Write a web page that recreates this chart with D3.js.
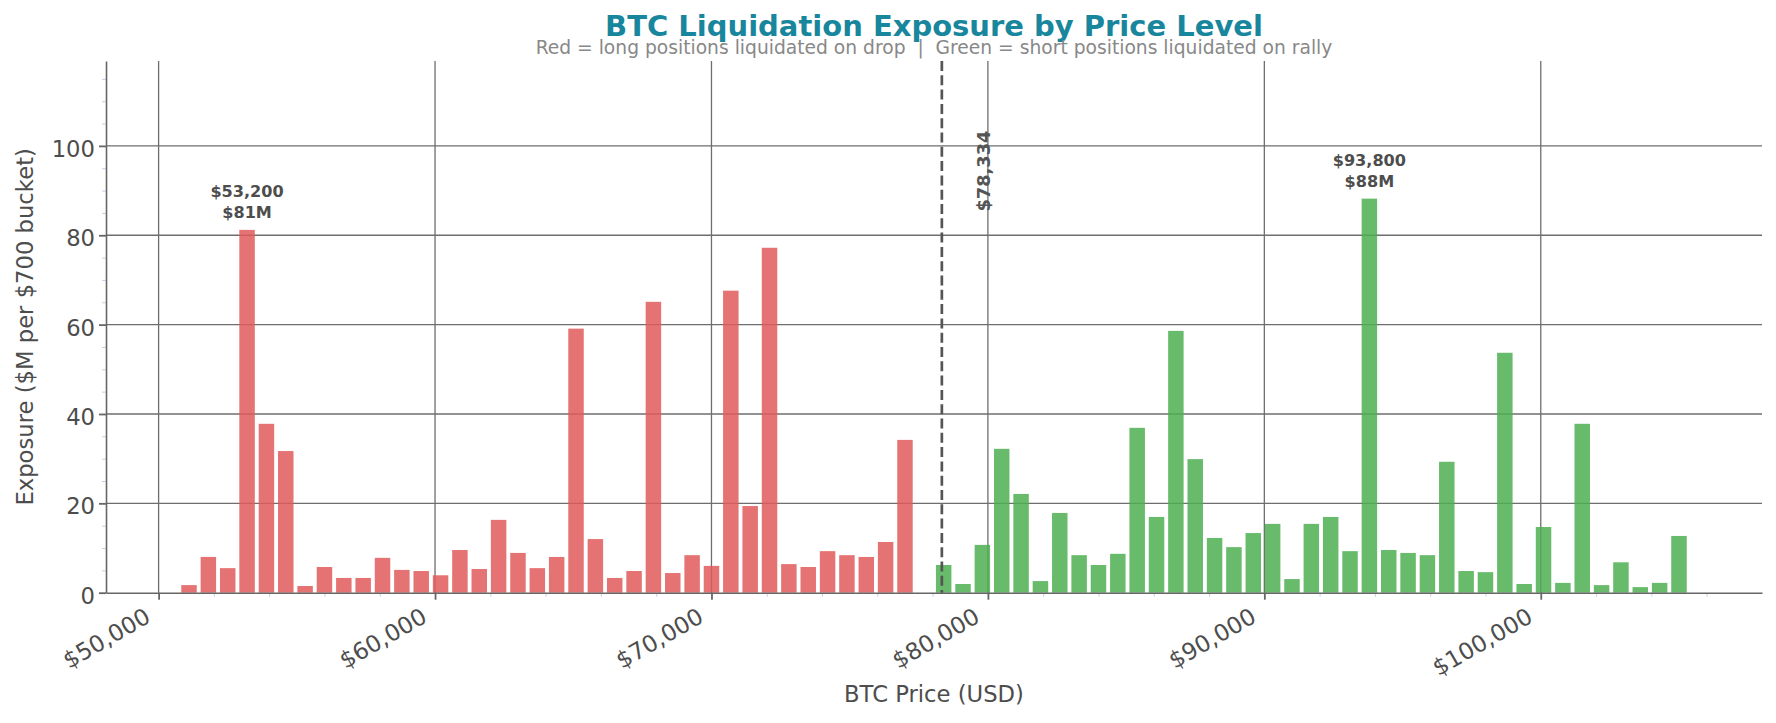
<!DOCTYPE html>
<html>
<head>
<meta charset="utf-8">
<script src="https://cdn.jsdelivr.net/npm/d3@7"></script>
<style>
  body { margin: 0; background: #fff; }
  svg { display: block; font-family: 'DejaVu Sans', sans-serif; }
</style>
</head>
<body>
<div id="chart"></div>
<script>
// $700 price buckets below the current price (long liquidations)
const longPrices = [
  51100, 51800, 52500, 53200, 53900, 54600, 55300, 56000, 56700, 57400,
  58100, 58800, 59500, 60200, 60900, 61600, 62300, 63000, 63700, 64400,
  65100, 65800, 66500, 67200, 67900, 68600, 69300, 70000, 70700, 71400,
  72100, 72800, 73500, 74200, 74900, 75600, 76300, 77000
];
const longValues = [
  1.7, 8.0, 5.5, 81.2, 37.8, 31.7, 1.5, 5.75, 3.3, 3.3,
  7.8, 5.1, 4.85, 3.9, 9.55, 5.3, 16.3, 8.9, 5.5, 8.0,
  59.1, 12.0, 3.3, 4.85, 65.1, 4.4, 8.4, 6.0, 67.6, 19.4,
  77.2, 6.4, 5.75, 9.3, 8.4, 8.0, 11.35, 34.2
];

// $700 price buckets above the current price (short liquidations)
const shortPrices = [
  78400, 79100, 79800, 80500, 81200, 81900, 82600, 83300, 84000, 84700,
  85400, 86100, 86800, 87500, 88200, 88900, 89600, 90300, 91000, 91700,
  92400, 93100, 93800, 94500, 95200, 95900, 96600, 97300, 98000, 98700,
  99400, 100100, 100800, 101500, 102200, 102900, 103600, 104300, 105000
];
const shortValues = [
  6.2, 1.95, 10.7, 32.2, 22.1, 2.6, 17.85, 8.4, 6.2, 8.7,
  36.9, 16.95, 58.6, 29.9, 12.25, 10.2, 13.35, 15.4, 3.05, 15.4,
  16.95, 9.3, 88.2, 9.55, 8.9, 8.4, 29.3, 4.85, 4.6, 53.7,
  1.95, 14.7, 2.2, 37.8, 1.7, 6.8, 1.25, 2.2, 12.7
];

const currentPrice = 78334;
const bucketSize = 700;

const xTicks = [50000, 60000, 70000, 80000, 90000, 100000];
const xMinorTicks = [
  52000, 54000, 56000, 58000, 62000, 64000, 66000, 68000, 72000, 74000,
  76000, 78000, 82000, 84000, 86000, 88000, 92000, 94000, 96000, 98000,
  102000, 104000, 106000
];
const yTicks = [0, 20, 40, 60, 80, 100];
const yMinorTicks = [5, 10, 15, 25, 30, 35, 45, 50, 55, 65, 70, 75, 85, 90, 95, 105, 110, 115];

const longs = longPrices.map((p, i) => ({ price: p, value: longValues[i], side: 'long' }));
const shorts = shortPrices.map((p, i) => ({ price: p, value: shortValues[i], side: 'short' }));
const buckets = [...longs, ...shorts];

function createChart() {
  const width = 1776;
  const height = 723;
  const margin = { top: 61, right: 14, bottom: 130.3, left: 106 };

  const usableArea = {
    top: margin.top,
    right: width - margin.right,
    bottom: height - margin.bottom,
    left: margin.left,
  };

  const svg = d3.select('#chart')
    .append('svg')
    .attr('width', width)
    .attr('height', height);

  const barWidth = bucketSize * 0.8;

  const xScale = d3.scaleLinear()
    .domain([48097, 108003])
    .range([usableArea.left, usableArea.right]);

  const yScale = d3.scaleLinear()
    .domain([0, 119])
    .range([usableArea.bottom, usableArea.top]);

  // gridlines
  const grid = svg.append('g').attr('class', 'grid')
    .attr('stroke', '#6e6e6e')
    .attr('stroke-width', 1.3);

  grid.selectAll('line.v')
    .data(xTicks)
    .join('line')
    .attr('class', 'v')
    .attr('x1', (d) => xScale(d))
    .attr('x2', (d) => xScale(d))
    .attr('y1', usableArea.top)
    .attr('y2', usableArea.bottom);

  grid.selectAll('line.h')
    .data(yTicks.filter((d) => d > 0))
    .join('line')
    .attr('class', 'h')
    .attr('x1', usableArea.left)
    .attr('x2', usableArea.right)
    .attr('y1', (d) => yScale(d))
    .attr('y2', (d) => yScale(d));

  // bars
  svg.append('g')
    .attr('class', 'bars')
    .selectAll('rect')
    .data(buckets)
    .join('rect')
    .attr('x', (d) => xScale(d.price - barWidth / 2))
    .attr('width', (d) => xScale(d.price + barWidth / 2) - xScale(d.price - barWidth / 2))
    .attr('y', (d) => yScale(d.value))
    .attr('height', (d) => yScale(0) - yScale(d.value))
    .attr('fill', (d) => (d.side === 'long' ? '#e05a5a' : '#4caf50'))
    .attr('fill-opacity', 0.85);

  // minor ticks
  svg.append('g')
    .attr('transform', `translate(0, ${usableArea.bottom})`)
    .call(d3.axisBottom(xScale).tickValues(xMinorTicks).tickFormat('').tickSize(4).tickSizeOuter(0))
    .call((g) => g.select('.domain').remove())
    .call((g) => g.selectAll('line').attr('stroke', '#c9cee6').attr('stroke-width', 1));

  svg.append('g')
    .attr('transform', `translate(${usableArea.left}, 0)`)
    .call(d3.axisLeft(yScale).tickValues(yMinorTicks).tickFormat('').tickSize(4).tickSizeOuter(0))
    .call((g) => g.select('.domain').remove())
    .call((g) => g.selectAll('line').attr('stroke', '#c9cee6').attr('stroke-width', 1));

  // major axes
  const xAxis = d3.axisBottom(xScale)
    .tickValues(xTicks)
    .tickFormat(d3.format('$,.0f'))
    .tickSize(7)
    .tickSizeOuter(0);

  svg.append('g')
    .attr('class', 'x-axis')
    .attr('transform', `translate(0, ${usableArea.bottom})`)
    .call(xAxis)
    .call((g) => g.select('.domain').attr('stroke', '#666').attr('stroke-width', 1.6))
    .call((g) => g.selectAll('.tick line').attr('stroke', '#666').attr('stroke-width', 1.8))
    .call((g) => g.selectAll('.tick text')
      .attr('fill', '#4d4d4d')
      .attr('font-size', '23.2px')
      .attr('font-family', 'DejaVu Sans, sans-serif')
      .attr('text-anchor', 'end')
      .attr('x', 0)
      .attr('y', 0)
      .attr('dy', null)
      .attr('transform', 'translate(-7, 28.5) rotate(-30)'));

  const yAxis = d3.axisLeft(yScale)
    .tickValues(yTicks)
    .tickSize(7)
    .tickPadding(4)
    .tickSizeOuter(0);

  svg.append('g')
    .attr('class', 'y-axis')
    .attr('transform', `translate(${usableArea.left}, 0)`)
    .call(yAxis)
    .call((g) => g.select('.domain').attr('stroke', '#666').attr('stroke-width', 1.6))
    .call((g) => g.selectAll('.tick line').attr('stroke', '#666').attr('stroke-width', 1.8))
    .call((g) => g.selectAll('.tick text')
      .attr('fill', '#4d4d4d')
      .attr('font-size', '22.7px')
      .attr('font-family', 'DejaVu Sans, sans-serif')
      .attr('dy', '0.46em'));

  // current price marker
  svg.append('line')
    .attr('x1', xScale(currentPrice))
    .attr('x2', xScale(currentPrice))
    .attr('y1', usableArea.top)
    .attr('y2', usableArea.bottom)
    .attr('stroke', '#555')
    .attr('stroke-width', 2.7)
    .attr('stroke-dasharray', '10,4.3');

  svg.append('text')
    .attr('transform', `translate(${xScale(currentPrice) + 48}, ${yScale(85.3)}) rotate(-90)`)
    .attr('font-size', '17.8px')
    .attr('font-weight', 'bold')
    .attr('fill', '#555')
    .text(d3.format('$,.0f')(currentPrice));

  // peak annotations
  const peaks = [
    d3.greatest(longs, (d) => d.value),
    d3.greatest(shorts, (d) => d.value),
  ];

  const peakText = svg.append('g')
    .attr('font-size', '16.1px')
    .attr('font-weight', 'bold')
    .attr('fill', '#4d4d4d')
    .attr('text-anchor', 'middle');

  peaks.forEach((d) => {
    peakText.append('text')
      .attr('x', xScale(d.price))
      .attr('y', yScale(d.value) - 33)
      .text(d3.format('$,.0f')(d.price));
    peakText.append('text')
      .attr('x', xScale(d.price))
      .attr('y', yScale(d.value) - 12)
      .text(`$${Math.round(d.value)}M`);
  });

  // labels
  const centerX = (usableArea.left + usableArea.right) / 2;

  svg.append('text')
    .attr('x', centerX)
    .attr('y', 702)
    .attr('text-anchor', 'middle')
    .attr('font-size', '22.7px')
    .attr('fill', '#4d4d4d')
    .text('BTC Price (USD)');

  svg.append('text')
    .attr('transform', `translate(32.5, ${(usableArea.top + usableArea.bottom) / 2}) rotate(-90)`)
    .attr('text-anchor', 'middle')
    .attr('font-size', '22.7px')
    .attr('fill', '#4d4d4d')
    .text('Exposure ($M per $700 bucket)');

  svg.append('text')
    .attr('x', centerX)
    .attr('y', 36)
    .attr('text-anchor', 'middle')
    .attr('font-size', '29px')
    .attr('font-weight', 'bold')
    .attr('fill', '#18869c')
    .text('BTC Liquidation Exposure by Price Level');

  svg.append('text')
    .attr('x', centerX)
    .attr('y', 53.5)
    .attr('text-anchor', 'middle')
    .attr('font-size', '18.7px')
    .attr('fill', '#888')
    .attr('xml:space', 'preserve')
    .style('white-space', 'pre')
    .text('Red = long positions liquidated on drop  |  Green = short positions liquidated on rally');
}

document.addEventListener('DOMContentLoaded', () => {
  createChart();
});
</script>
</body>
</html>
